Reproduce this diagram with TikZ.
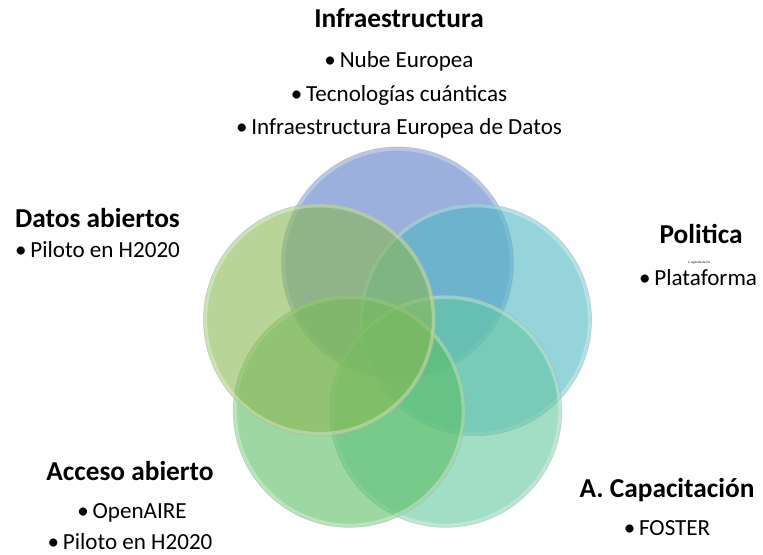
\documentclass[tikz,border=0pt]{standalone}
\usepackage{fontspec}
\setmainfont{Carlito}

\definecolor{infraBlue}{HTML}{587BC6}
\definecolor{poliTeal}{HTML}{50B7C5}
\definecolor{capaSea}{HTML}{64C6A0}
\definecolor{accGreen}{HTML}{5CBE64}
\definecolor{datosLime}{HTML}{89B752}

\tikzset{
	petal/.style={circle, minimum size=174pt, inner sep=0pt, fill=#1, fill opacity=0.6, draw=gray!60, draw opacity=0.5, line width=0.6pt},
	rim/.style={draw=white, draw opacity=0.3, line width=2.5pt},
	head/.style={anchor=base, font=\bfseries\fontsize{20.5}{24}\selectfont},
	item/.style={anchor=base, font=\fontsize{17.3}{20}\selectfont}
}

\begin{document}
\begin{tikzpicture}[x=0.75pt, y=-0.75pt]
\useasboundingbox (0,0) rectangle (763,554);

% circles, drawn clockwise from the top
\node[petal=infraBlue] (cInfra) at (397.5,263) {};
\draw[rim] (cInfra.center) circle (85.5pt);
\node[petal=poliTeal] (cPoli) at (475.5,319.7) {};
\draw[rim] (cPoli.center) circle (85.5pt);
\node[petal=capaSea] (cCapa) at (445.7,411.3) {};
\draw[rim] (cCapa.center) circle (85.5pt);
\node[petal=accGreen] (cAcc) at (349.3,411.3) {};
\draw[rim] (cAcc.center) circle (85.5pt);
\node[petal=datosLime] (cDatos) at (319.5,319.7) {};
\draw[rim] (cDatos.center) circle (85.5pt);

% labels
\node[head] (infra) at (399,27) {Infraestructura};
\node[item] (infra-1) at (399,67) {•\,Nube Europea};
\node[item] (infra-2) at (399,101) {•\,Tecnologías cuánticas};
\node[item] (infra-3) at (399,134) {•\,Infraestructura Europea de Datos};

\node[head] (poli) at (701,243) {Politica};
\node[anchor=base, font=\fontsize{2.5}{3}\selectfont] (poli-0) at (699,263) {•\ \ Agenda de CA};
\node[item] (poli-1) at (698,285) {•\,Plataforma};

\node[head] (capa) at (667,497) {A. Capacitación};
\node[item] (capa-1) at (667,535) {•\,FOSTER};

\node[head] (acc) at (130,480) {Acceso abierto};
\node[item] (acc-1) at (132,518) {•\,OpenAIRE};
\node[item] (acc-2) at (130,549) {•\,Piloto en H2020};

\node[head] (datos) at (97.5,227) {Datos abiertos};
\node[item] (datos-1) at (97.5,257) {•\,Piloto en H2020};
\end{tikzpicture}
\end{document}
